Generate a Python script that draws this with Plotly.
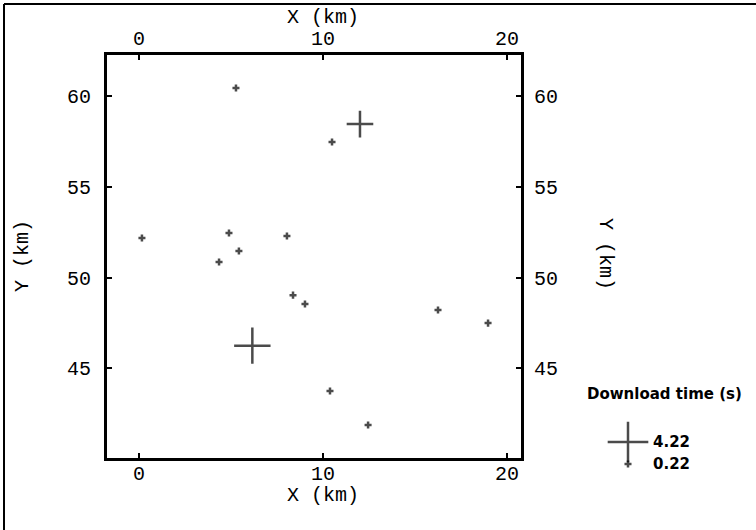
import plotly.graph_objects as go

# ---- data ----
x_km = [5.27, 12.01, 10.49, 0.16, 4.89, 8.04, 5.43, 4.35, 8.37, 9.02, 16.25, 18.97, 6.16, 10.38, 12.45]
y_km = [60.42, 58.44, 57.45, 52.17, 52.45, 52.28, 51.46, 50.85, 49.03, 48.54, 48.21, 47.49, 46.25, 43.76, 41.89]
download_s = [0.22, 2.55, 0.22, 0.22, 0.22, 0.22, 0.22, 0.22, 0.22, 0.22, 0.22, 0.22, 3.72, 0.22, 0.22]

legend_values = [4.22, 0.22]
legend_labels = ["4.22", "0.22"]
x_ticks = [0, 10, 20]
y_ticks = [45, 50, 55, 60]

W, H = 756, 530
def px(v):
    return v / W
def py(v):
    return 1 - v / H

def msize(v):
    return 3.7 + 6.0 * v

mono = "Liberation Mono"
tick_font = dict(family=mono, size=20, color="black")
title_font = dict(family=mono, size=20, color="black")
leg_font = dict(family="DejaVu Sans", size=15, color="black")

fig = go.Figure()

fig.add_trace(go.Scatter(
    x=x_km, y=y_km, mode="markers",
    marker=dict(symbol="cross-thin", size=[msize(v) for v in download_s], color="black",
                line=dict(color="black", width=2.5)),
    showlegend=False, hoverinfo="skip", cliponaxis=False,
))

# legend marks in their own small axes
fig.add_trace(go.Scatter(
    x=[0, 0], y=[0, 1], mode="markers",
    marker=dict(symbol="cross-thin", size=[msize(v) for v in legend_values], color="black",
                line=dict(color="black", width=2.5)),
    xaxis="x3", yaxis="y3", showlegend=False, hoverinfo="skip", cliponaxis=False,
))

xr = [(107 - 139) / 18.4, (521 - 139) / 18.4]
yr = [40.07, 62.24]
xdom = [px(107), px(521)]
ydom = [py(458), py(55)]

axis_common = dict(showgrid=False, zeroline=False, showline=True, linecolor="black",
                   linewidth=3, ticks="inside", ticklen=5, tickwidth=2, tickcolor="black",
                   tickfont=tick_font, automargin=False)

fig.update_layout(
    width=W, height=H,
    margin=dict(l=0, r=0, t=0, b=0),
    paper_bgcolor="white", plot_bgcolor="white",
    xaxis=dict(domain=xdom, range=xr, tickvals=x_ticks, side="bottom", anchor="y",
               ticklabelstandoff=-5, **axis_common),
    xaxis2=dict(domain=xdom, range=xr, tickvals=x_ticks, side="top", overlaying="x", anchor="y",
                ticklabelstandoff=-1, **axis_common),
    yaxis=dict(domain=ydom, range=yr, tickvals=y_ticks, side="left", anchor="x",
               ticklabelstandoff=9, **axis_common),
    yaxis2=dict(domain=ydom, range=yr, tickvals=y_ticks, side="right", overlaying="y", anchor="x",
                ticklabelstandoff=6, **axis_common),
    xaxis3=dict(domain=[px(608), px(648)], range=[-1, 1], visible=False, anchor="y3"),
    yaxis3=dict(domain=[py(475), py(431)], range=[1.5, -0.5], visible=False, anchor="x3"),
    showlegend=False,
)

fig.add_trace(go.Scatter(x=[None], y=[None], xaxis="x2", yaxis="y2", showlegend=False, hoverinfo="skip"))

ann = []
ann.append(dict(text="X (km)", x=px(323), y=py(18), xref="paper", yref="paper",
                showarrow=False, font=title_font, xanchor="center", yanchor="middle"))
ann.append(dict(text="X (km)", x=px(323), y=py(495), xref="paper", yref="paper",
                showarrow=False, font=title_font, xanchor="center", yanchor="middle"))
ann.append(dict(text="Y (km)", x=px(22), y=py(256), xref="paper", yref="paper", textangle=-90,
                showarrow=False, font=title_font, xanchor="center", yanchor="middle"))
ann.append(dict(text="Y (km)", x=px(606), y=py(254), xref="paper", yref="paper", textangle=90,
                showarrow=False, font=title_font, xanchor="center", yanchor="middle"))
ann.append(dict(text="<b>Download time (s)</b>", x=px(664), y=py(394), xref="paper", yref="paper",
                showarrow=False, font=leg_font, xanchor="center", yanchor="middle"))
for i, lab in enumerate(legend_labels):
    ann.append(dict(text="<b>" + lab + "</b>", x=px(651), y=i, xref="paper", yref="y3",
                    showarrow=False, font=leg_font, xanchor="left", yanchor="middle"))
fig.update_layout(annotations=ann)

fig.add_shape(type="line", xref="paper", yref="paper", x0=px(4), x1=px(4), y0=py(4), y1=py(H + 5),
              line=dict(color="black", width=2))
fig.add_shape(type="line", xref="paper", yref="paper", x0=px(4), x1=px(W + 5), y0=py(4), y1=py(4),
              line=dict(color="black", width=2))

fig.write_html("out.html", config={"displayModeBar": False},
               post_script="document.body.style.margin='0';document.body.style.overflow='hidden';")
